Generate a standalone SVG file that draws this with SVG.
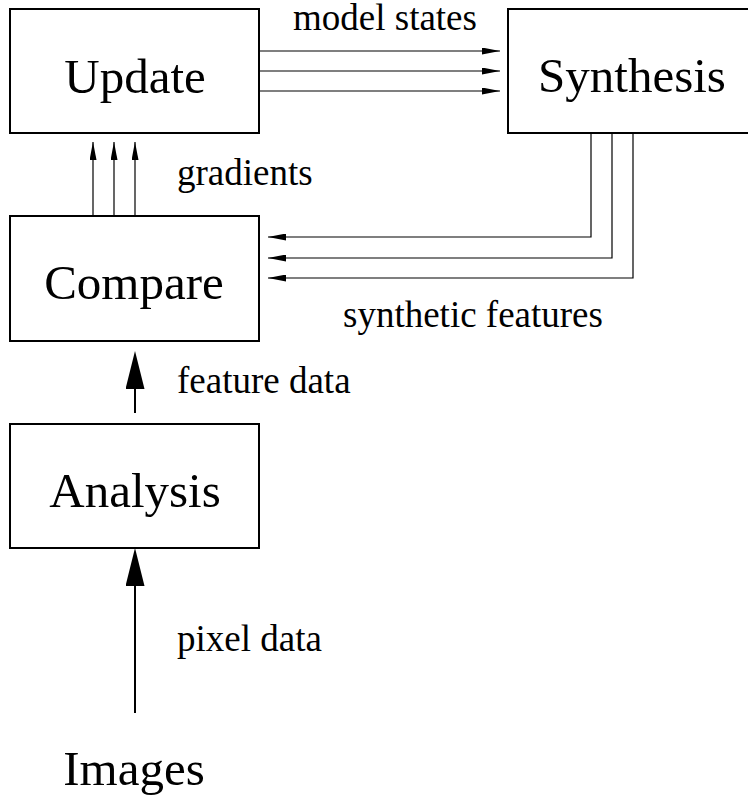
<svg xmlns="http://www.w3.org/2000/svg" width="748" height="796" viewBox="0 0 748 796">
<style>
.box{fill:#fff;stroke:#000;stroke-width:2}
.big{font-family:"Liberation Serif","Times New Roman",serif;font-size:49px;fill:#000;text-anchor:middle}
.lbl{font-family:"Liberation Serif","Times New Roman",serif;font-size:37px;fill:#000}
.thin{fill:none;stroke:#000;stroke-width:1.2}
.thick{fill:none;stroke:#000;stroke-width:2}
</style>
<defs>
<marker id="ah" markerUnits="userSpaceOnUse" markerWidth="18" markerHeight="7" refX="18" refY="3.5" orient="auto">
<path d="M0,0 L18,3.5 L0,7 z" fill="#000"/>
</marker>
<marker id="ahb" markerUnits="userSpaceOnUse" markerWidth="38" markerHeight="19" refX="34" refY="9.5" orient="auto">
<path d="M0,0 L38,9.5 L0,19 z" fill="#000"/>
</marker>
</defs>
<rect width="748" height="796" fill="#fff"/>
<g id="connectors">
<line class="thin" x1="259" y1="51" x2="500" y2="51" marker-end="url(#ah)"/>
<line class="thin" x1="259" y1="71" x2="500" y2="71" marker-end="url(#ah)"/>
<line class="thin" x1="259" y1="91" x2="500" y2="91" marker-end="url(#ah)"/>
<line class="thin" x1="93" y1="216" x2="93" y2="142" marker-end="url(#ah)"/>
<line class="thin" x1="114" y1="216" x2="114" y2="142" marker-end="url(#ah)"/>
<line class="thin" x1="135" y1="216" x2="135" y2="142" marker-end="url(#ah)"/>
<polyline class="thin" points="591,133 591,237 268,237" marker-end="url(#ah)"/>
<polyline class="thin" points="612,133 612,258 268,258" marker-end="url(#ah)"/>
<polyline class="thin" points="633,133 633,278 268,278" marker-end="url(#ah)"/>
<line class="thick" x1="135" y1="413" x2="135" y2="355" marker-end="url(#ahb)"/>
<line class="thick" x1="135" y1="713" x2="135" y2="552" marker-end="url(#ahb)"/>
<text class="lbl" x="293" y="30">model states</text>
<text class="lbl" x="177" y="185">gradients</text>
<text class="lbl" x="343" y="327">synthetic features</text>
<text class="lbl" x="177" y="393">feature data</text>
<text class="lbl" x="177" y="651">pixel data</text>
</g>
<g id="update">
<rect class="box" x="10" y="9" width="249" height="124"/>
<text class="big" x="135" y="93">Update</text>
</g>
<g id="synthesis">
<rect class="box" x="508" y="9" width="249" height="124"/>
<text class="big" x="632" y="92">Synthesis</text>
</g>
<g id="compare">
<rect class="box" x="10" y="216" width="249" height="125"/>
<text class="big" x="134" y="299">Compare</text>
</g>
<g id="analysis">
<rect class="box" x="10" y="424" width="249" height="124"/>
<text class="big" x="135" y="507">Analysis</text>
</g>
<g id="images">
<text class="big" x="134" y="785">Images</text>
</g>
</svg>
